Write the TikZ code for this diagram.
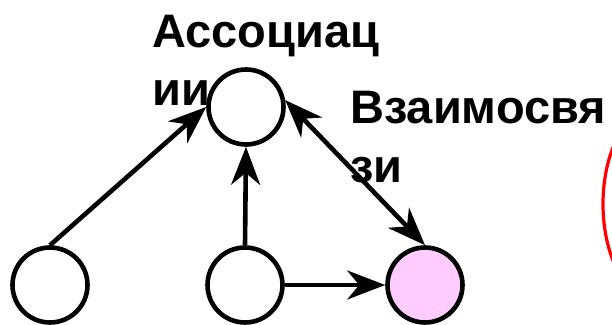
\documentclass[tikz,border=0pt]{standalone}
\usepackage{fontspec}
\setmainfont{Liberation Sans}
\usetikzlibrary{arrows.meta}
\definecolor{nodepink}{HTML}{FFCCFF}
\tikzset{
  vertex/.style={circle, draw=black, line width=4.6pt, minimum size=75pt, inner sep=0pt, fill=white},
  link/.style={line width=4.6pt, -{Stealth[length=38pt,width=29pt,inset=12pt]}},
  bilink/.style={line width=4.6pt, {Stealth[length=38pt,width=29pt,inset=12pt]}-{Stealth[length=38pt,width=29pt,inset=12pt]}},
  caption/.style={anchor=base west, inner sep=0pt, align=left, font=\fontsize{47}{58}\selectfont\bfseries}
}
\begin{document}
\begin{tikzpicture}[x=1pt,y=1pt]
  \clip (0,0) rectangle (612,324);
  \fill[white] (0,0) rectangle (612,324);

  % partly visible red outline at the right edge
  \draw[red, line width=3.2pt] (660,120) ellipse [x radius=57, y radius=100];

  % vertices
  \node[vertex] (top) at (246,217) {};
  \node[vertex] (bl) at (50,39) {};
  \node[vertex] (mid) at (245,39) {};
  \node[vertex, fill=nodepink] (pink) at (425,39) {};

  % edges
  \draw[link] (bl.north) -- (top.west);
  \draw[link] (mid.north) -- (top.south);
  \draw[link] (mid.east) -- (pink.west);
  \draw[bilink] (top.10) -- (pink.north);

  % labels (anchored at the baseline of the last line)
  \node[caption] (assoc) at (152,218) {Ассоциац\\ии};
  \node[caption] (rel) at (350,142) {Взаимосвя\\зи};
\end{tikzpicture}
\end{document}
